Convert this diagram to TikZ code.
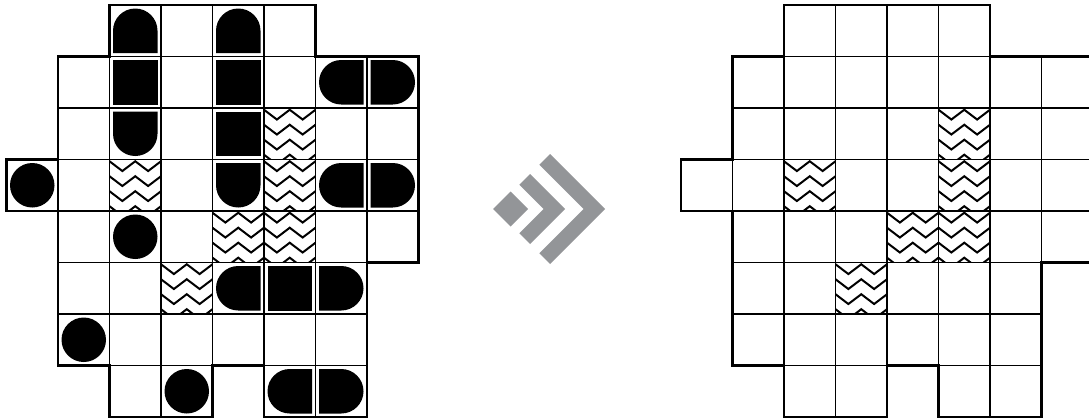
\documentclass[tikz,border=0pt]{standalone}
\definecolor{arrowgray}{RGB}{147,149,152}
\tikzset{
  cellline/.style={line width=1.6pt, draw=black},
  outline/.style={line width=2.6pt, draw=black, line join=miter},
  piece/.style={fill=black},
  zig/.style={line width=2pt, line join=miter, draw=black},
  chev/.style={fill=arrowgray},
}
\newcommand{\ins}{0.068}
\newcommand{\rr}{22.25pt}
\newcommand{\drawboard}[2]{%
  \begin{scope}[shift={(#1,5)}, x=51.5pt, y=-51.5pt]
    % zigzag cells
    \foreach \c/\r in {5/2,2/3,5/3,4/4,5/4,3/5}{
      \begin{scope}[shift={(\c,\r)}]
        \clip (0,0) rectangle (1,1);
        \foreach \k in {0,...,3}{
          \draw[zig] (-0.25,{0.224+0.291*\k}) -- ++(0.25,-0.19) -- ++(0.25,0.19) -- ++(0.25,-0.19) -- ++(0.25,0.19) -- ++(0.25,-0.19) -- ++(0.25,0.19);
        }
      \end{scope}
    }
    % cells
    \foreach \r/\a/\b in {0/2/5,1/1/7,2/1/7,3/0/7,4/1/7,5/1/6,6/1/6}{
      \foreach \c in {\a,...,\b}{
        \draw[cellline] (\c,\r) rectangle ++(1,1);
      }
    }
    \foreach \c in {2,3,5,6}{
      \draw[cellline] (\c,7) rectangle ++(1,1);
    }
    #2
    % outline
    \draw[outline] (2,0) -- (6,0) -- (6,1) -- (8,1) -- (8,5) -- (7,5) -- (7,8) -- (5,8) -- (5,7) -- (4,7) -- (4,8) -- (2,8) -- (2,7) -- (1,7) -- (1,4) -- (0,4) -- (0,3) -- (1,3) -- (1,1) -- (2,1) -- cycle;
  \end{scope}
}
\newcommand{\leftpieces}{%
  % rounded top
  \foreach \c/\r in {2/0,4/0}{
    \fill[piece] ({\c+\ins},{\r+1-\ins}) -- ({\c+\ins},{\r+0.5}) arc[start angle=180, end angle=0, radius=\rr] -- ({\c+1-\ins},{\r+1-\ins}) -- cycle;
  }
  % rounded bottom
  \foreach \c/\r in {2/2,4/3}{
    \fill[piece] ({\c+\ins},{\r+\ins}) -- ({\c+\ins},{\r+0.5}) arc[start angle=180, end angle=360, radius=\rr] -- ({\c+1-\ins},{\r+\ins}) -- cycle;
  }
  % rounded left
  \foreach \c/\r in {6/1,6/3,4/5,5/7}{
    \fill[piece] ({\c+1-\ins},{\r+\ins}) -- ({\c+0.5},{\r+\ins}) arc[start angle=90, end angle=270, radius=\rr] -- ({\c+1-\ins},{\r+1-\ins}) -- cycle;
  }
  % rounded right
  \foreach \c/\r in {7/1,7/3,6/5,6/7}{
    \fill[piece] ({\c+\ins},{\r+\ins}) -- ({\c+0.5},{\r+\ins}) arc[start angle=90, end angle=-90, radius=\rr] -- ({\c+\ins},{\r+1-\ins}) -- cycle;
  }
  % squares
  \foreach \c/\r in {2/1,4/1,4/2,5/5}{
    \fill[piece] ({\c+\ins},{\r+\ins}) rectangle ({\c+1-\ins},{\r+1-\ins});
  }
  % circles
  \foreach \c/\r in {0/3,2/4,1/6,3/7}{
    \fill[piece] ({\c+0.5},{\r+0.5}) circle[radius=\rr];
  }
}
\begin{document}
\begin{tikzpicture}[x=1pt, y=-1pt]
  \useasboundingbox (0,0) rectangle (1089,418);
  \clip (0,0) rectangle (1089,418);
  \drawboard{6.5}{\leftpieces}
  \drawboard{681}{}
  % arrow
  \fill[chev] (493,209) -- (510.5,191.5) -- (528,209) -- (510.5,226.5) -- cycle;
  \fill[chev] (565,209) -- (530,174) -- (519.25,184.75) -- (543.5,209) -- (519.25,233.25) -- (530,244) -- cycle;
  \fill[chev] (605,209) -- (550,154) -- (539.25,164.75) -- (583.5,209) -- (539.25,253.25) -- (550,264) -- cycle;
\end{tikzpicture}
\end{document}
